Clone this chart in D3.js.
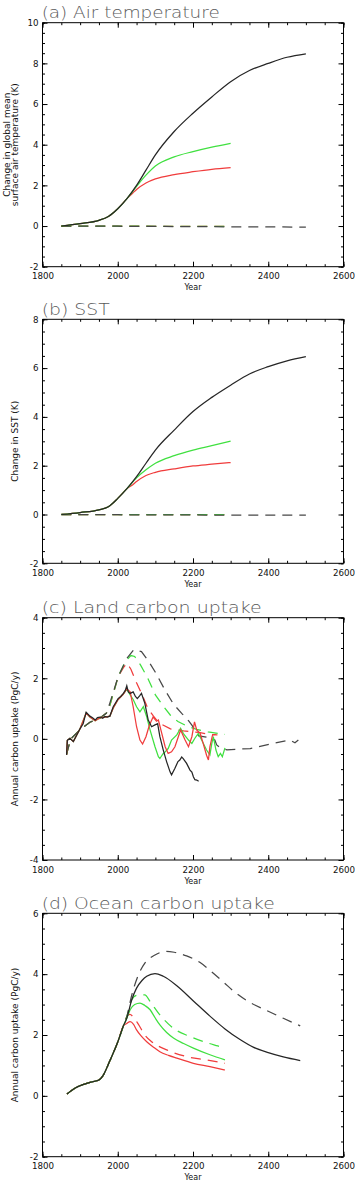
<!DOCTYPE html>
<html>
<head>
<meta charset="utf-8">
<script src="https://cdn.jsdelivr.net/npm/d3@7"></script>
<style>
  body { margin: 0; background: #fff; }
  text { font-family: "DejaVu Sans", sans-serif; }
</style>
</head>
<body>
<div id="chart"></div>
<script>
// ---- data: [year, value] ----
const yearTicks = [1800, 2000, 2200, 2400, 2600];

// (a) air temperature change (K)
const airBlack = [[1850, 0], [1900, 0.12], [1950, 0.28], [1975, 0.47], [2000, 0.85], [2025, 1.36], [2050, 2.0], [2075, 2.75], [2100, 3.5], [2150, 4.65], [2200, 5.55], [2250, 6.35], [2300, 7.1], [2350, 7.65], [2400, 8.0], [2450, 8.3], [2500, 8.47]];
const airGreen = [[1850, 0], [1900, 0.12], [1950, 0.28], [1975, 0.47], [2000, 0.85], [2025, 1.36], [2050, 1.95], [2075, 2.5], [2100, 2.95], [2150, 3.4], [2200, 3.66], [2250, 3.88], [2300, 4.07]];
const airRed = [[1850, 0], [1900, 0.12], [1950, 0.28], [1975, 0.47], [2000, 0.85], [2025, 1.36], [2040, 1.62], [2050, 1.8], [2075, 2.12], [2100, 2.32], [2150, 2.53], [2200, 2.67], [2250, 2.79], [2300, 2.87]];
const airBlackDash = [[1850, 0], [2000, -0.01], [2200, -0.03], [2500, -0.05]];
const airGreenDash = [[1850, 0], [2300, -0.02]];
const airRedDash = [[1850, 0], [2300, -0.02]];

// (b) SST change (K)
const sstBlack = [[1850, 0], [1900, 0.08], [1950, 0.19], [1975, 0.32], [2000, 0.66], [2025, 1.07], [2050, 1.55], [2075, 2.1], [2100, 2.64], [2150, 3.46], [2200, 4.22], [2250, 4.8], [2300, 5.3], [2350, 5.76], [2400, 6.06], [2450, 6.3], [2500, 6.47]];
const sstGreen = [[1850, 0], [1900, 0.08], [1950, 0.19], [1975, 0.32], [2000, 0.66], [2025, 1.07], [2050, 1.5], [2075, 1.83], [2100, 2.1], [2150, 2.41], [2200, 2.64], [2250, 2.82], [2300, 3.01]];
const sstRed = [[1850, 0], [1900, 0.08], [1950, 0.19], [1975, 0.32], [2000, 0.66], [2025, 1.07], [2040, 1.22], [2050, 1.35], [2075, 1.6], [2100, 1.73], [2150, 1.87], [2200, 1.99], [2250, 2.06], [2300, 2.13]];
const sstBlackDash = [[1850, 0], [2000, -0.01], [2200, -0.02], [2500, -0.03]];
const sstGreenDash = [[1850, 0], [2300, -0.01]];
const sstRedDash = [[1850, 0], [2300, -0.01]];

// (c) land carbon uptake (PgC/y)
const landBlack = [[1864, -0.53], [1866, -0.05], [1873, 0.02], [1882, -0.09], [1890, 0.1], [1900, 0.34], [1908, 0.5], [1916, 0.88], [1926, 0.75], [1933, 0.7], [1940, 0.62], [1946, 0.7], [1953, 0.72], [1960, 0.68], [1966, 0.74], [1972, 0.72], [1979, 0.75], [1988, 1.06], [2001, 1.33], [2008, 1.4], [2015, 1.5], [2020, 1.6], [2024, 1.75], [2028, 1.55], [2033, 1.5], [2041, 1.55], [2047, 1.4], [2052, 1.33], [2058, 1.42], [2063, 1.5], [2072, 1.17], [2081, 0.62], [2090, 0.4], [2099, 0.46], [2106, 0.5], [2112, 0.07], [2121, -0.37], [2130, -0.76], [2139, -1.09], [2143, -1.19], [2152, -0.97], [2160, -0.75], [2165, -0.7], [2170, -0.6], [2174, -0.65], [2183, -0.81], [2192, -1.03], [2197, -1.1], [2201, -1.25], [2205, -1.35], [2210, -1.36], [2215, -1.4]];
const landGreen = [[1864, -0.53], [1866, -0.05], [1873, 0.02], [1882, -0.09], [1900, 0.34], [1916, 0.85], [1926, 0.72], [1940, 0.6], [1953, 0.7], [1966, 0.72], [1979, 0.75], [1988, 1.02], [2001, 1.3], [2015, 1.48], [2024, 1.65], [2033, 1.45], [2041, 1.3], [2050, 1.06], [2059, 0.89], [2068, 1.06], [2077, 0.73], [2086, 0.29], [2099, -0.26], [2108, -0.59], [2112, -0.65], [2120, -0.5], [2126, -0.43], [2134, -0.32], [2143, -0.04], [2157, 0.13], [2167, 0.35], [2174, 0.18], [2188, -0.04], [2197, -0.15], [2205, 0.02], [2214, 0.18], [2223, -0.04], [2236, -0.37], [2245, -0.53], [2250, -0.15], [2254, 0.07], [2261, -0.37], [2267, -0.59], [2273, -0.48], [2278, -0.59], [2285, -0.3]];
const landRed = [[1864, -0.53], [1866, -0.05], [1873, 0.02], [1882, -0.09], [1900, 0.34], [1916, 0.85], [1926, 0.72], [1940, 0.6], [1953, 0.7], [1966, 0.72], [1979, 0.75], [1988, 1.02], [2001, 1.3], [2015, 1.48], [2024, 1.65], [2033, 1.55], [2041, 1.06], [2050, 0.4], [2059, -0.04], [2066, -0.17], [2075, 0.07], [2084, 0.45], [2094, 0.72], [2103, 0.58], [2108, 0.62], [2117, 0.18], [2126, -0.26], [2134, -0.48], [2143, -0.43], [2152, -0.26], [2161, 0.07], [2167, 0.29], [2179, -0.04], [2188, -0.26], [2197, 0.07], [2204, 0.56], [2210, 0.29], [2219, 0.18], [2227, -0.15], [2236, -0.54], [2241, -0.7], [2245, -0.26], [2252, 0.13], [2260, 0.15]];
const landBlackDash = [[1864, -0.5], [1875, 0.0], [1900, 0.3], [1926, 0.55], [1950, 0.66], [1970, 0.85], [1979, 1.18], [2001, 2.05], [2024, 2.65], [2043, 2.95], [2063, 2.88], [2081, 2.58], [2100, 2.2], [2126, 1.6], [2148, 1.15], [2170, 0.84], [2188, 0.6], [2197, 0.45], [2205, 0.3], [2215, 0.1], [2240, 0.05], [2258, -0.04], [2263, -0.2], [2272, -0.29], [2290, -0.36], [2352, -0.32], [2413, -0.15], [2458, -0.04], [2471, -0.13], [2480, -0.04]];
const landGreenDash = [[1864, -0.5], [1875, 0.0], [1900, 0.3], [1926, 0.55], [1950, 0.66], [1970, 0.85], [1979, 1.1], [2001, 2.05], [2020, 2.55], [2035, 2.75], [2045, 2.72], [2060, 2.45], [2080, 2.0], [2100, 1.45], [2120, 1.1], [2140, 0.78], [2160, 0.57], [2185, 0.42], [2210, 0.31], [2240, 0.23], [2285, 0.15]];
const landRedDash = [[1864, -0.5], [1875, 0.0], [1900, 0.3], [1926, 0.55], [1950, 0.66], [1970, 0.85], [1979, 1.1], [2001, 2.05], [2015, 2.35], [2024, 2.5], [2035, 2.3], [2050, 1.85], [2065, 1.45], [2080, 1.0], [2095, 0.75], [2110, 0.52], [2140, 0.33], [2175, 0.26], [2215, 0.21], [2250, 0.14], [2265, 0.13]];

// (d) ocean carbon uptake (PgC/y)
const oceanBlack = [[1865, 0.06], [1886, 0.25], [1910, 0.38], [1935, 0.47], [1950, 0.52], [1960, 0.65], [1979, 1.15], [2001, 1.8], [2015, 2.3], [2024, 2.55], [2037, 3.15], [2050, 3.54], [2065, 3.8], [2077, 3.93], [2099, 4.02], [2121, 3.93], [2157, 3.62], [2201, 3.12], [2245, 2.62], [2285, 2.2], [2325, 1.85], [2360, 1.6], [2400, 1.42], [2440, 1.28], [2485, 1.16]];
const oceanGreen = [[1865, 0.06], [1886, 0.25], [1910, 0.38], [1935, 0.47], [1950, 0.52], [1960, 0.65], [1979, 1.15], [2001, 1.8], [2015, 2.3], [2024, 2.55], [2033, 2.83], [2045, 3.0], [2059, 3.05], [2072, 2.97], [2086, 2.83], [2100, 2.55], [2112, 2.33], [2130, 2.08], [2148, 1.9], [2175, 1.72], [2201, 1.57], [2245, 1.35], [2285, 1.18]];
const oceanRed = [[1865, 0.06], [1886, 0.25], [1910, 0.38], [1935, 0.47], [1950, 0.52], [1960, 0.65], [1979, 1.15], [2001, 1.8], [2015, 2.3], [2024, 2.38], [2033, 2.44], [2042, 2.35], [2050, 2.17], [2062, 1.97], [2077, 1.78], [2095, 1.6], [2112, 1.45], [2135, 1.33], [2157, 1.24], [2201, 1.07], [2245, 0.96], [2285, 0.85]];
const oceanBlackDash = [[1865, 0.06], [1886, 0.25], [1910, 0.38], [1935, 0.47], [1950, 0.52], [1960, 0.65], [1979, 1.15], [2001, 1.8], [2015, 2.3], [2024, 2.6], [2037, 3.3], [2055, 3.98], [2072, 4.36], [2099, 4.63], [2128, 4.75], [2150, 4.72], [2183, 4.6], [2219, 4.38], [2250, 4.07], [2280, 3.75], [2310, 3.42], [2350, 3.08], [2400, 2.78], [2440, 2.55], [2485, 2.3]];
const oceanGreenDash = [[1865, 0.06], [1886, 0.25], [1910, 0.38], [1935, 0.47], [1950, 0.52], [1960, 0.65], [1979, 1.15], [2001, 1.8], [2015, 2.3], [2024, 2.6], [2037, 3.15], [2050, 3.3], [2072, 3.32], [2086, 3.1], [2112, 2.66], [2148, 2.22], [2192, 1.95], [2236, 1.75], [2266, 1.64], [2285, 1.57]];
const oceanRedDash = [[1865, 0.06], [1886, 0.25], [1910, 0.38], [1935, 0.47], [1950, 0.52], [1960, 0.65], [1979, 1.15], [2001, 1.8], [2015, 2.3], [2024, 2.6], [2032, 2.68], [2042, 2.58], [2055, 2.35], [2072, 2.0], [2090, 1.78], [2130, 1.51], [2183, 1.29], [2236, 1.18], [2285, 1.07]];

const colors = { black: '#262626', blackDash: '#474747', red: '#f03c3c', green: '#40e040' };

const width = 355, height = 1201;
const left = 42.5, right = 343.5;

const panels = [
  { title: '(a) Air temperature', titleLen: 178, top: 22.7, bottom: 266.7, yDomain: [-2, 10], yTicks: [-2, 0, 2, 4, 6, 8, 10],
    ylabel: ['Change in global mean', 'surface air temperature (K)'], curve: d3.curveMonotoneX,
    series: [[airRedDash, 'red', true], [airGreenDash, 'green', true], [airBlackDash, 'blackDash', true], [airRed, 'red'], [airGreen, 'green'], [airBlack, 'black']] },
  { title: '(b) SST', titleLen: 68, top: 319.3, bottom: 563.3, yDomain: [-2, 8], yTicks: [-2, 0, 2, 4, 6, 8],
    ylabel: ['Change in SST (K)'], curve: d3.curveMonotoneX,
    series: [[sstRedDash, 'red', true], [sstGreenDash, 'green', true], [sstBlackDash, 'blackDash', true], [sstRed, 'red'], [sstGreen, 'green'], [sstBlack, 'black']] },
  { title: '(c) Land carbon uptake', titleLen: 220, top: 617.7, bottom: 860, yDomain: [-4, 4], yTicks: [-4, -2, 0, 2, 4],
    ylabel: ['Annual carbon uptake (PgC/y)'], curve: d3.curveLinear,
    series: [[landRedDash, 'red', true], [landGreenDash, 'green', true], [landBlackDash, 'blackDash', true], [landGreen, 'green'], [landRed, 'red'], [landBlack, 'black']] },
  { title: '(d) Ocean carbon uptake', titleLen: 233, top: 913.3, bottom: 1156.7, yDomain: [-2, 6], yTicks: [-2, 0, 2, 4, 6],
    ylabel: ['Annual carbon uptake (PgC/y)'], curve: d3.curveMonotoneX,
    series: [[oceanRedDash, 'red', true], [oceanGreenDash, 'green', true], [oceanBlackDash, 'blackDash', true], [oceanRed, 'red'], [oceanGreen, 'green'], [oceanBlack, 'black']] }
];

const svg = d3.select('#chart').append('svg')
  .attr('width', width)
  .attr('height', height);

const x = d3.scaleLinear().domain([1800, 2600]).range([left, right]);
const xMinor = d3.range(1800, 2601, 50);

// ticks only (domain line removed), labels optional
const drawAxis = (sel, axis, showLabels) => {
  sel.call(axis);
  sel.select('.domain').remove();
  sel.selectAll('.tick line').attr('stroke', 'black').attr('stroke-width', 1);
  if (!showLabels) sel.selectAll('text').remove();
  else sel.selectAll('text').attr('fill', '#111').attr('font-size', 8.7).attr('font-family', 'DejaVu Sans, sans-serif');
};

panels.forEach(p => {
  const y = d3.scaleLinear().domain(p.yDomain).range([p.bottom, p.top]);
  const yMinor = d3.range(p.yDomain[0], p.yDomain[1] + 0.01, 0.5);
  const g = svg.append('g');

  // frame
  g.append('path')
    .attr('d', `M${left},${p.top}H${right}V${p.bottom}H${left}Z`)
    .attr('fill', 'none')
    .attr('stroke', 'black')
    .attr('stroke-width', 1);

  // ticks, inward on all four sides
  drawAxis(g.append('g').attr('transform', `translate(0,${p.bottom})`),
    d3.axisBottom(x).tickValues(yearTicks).tickSize(-5).tickPadding(6.5).tickFormat(d => String(d)), true);
  drawAxis(g.append('g').attr('transform', `translate(0,${p.bottom})`),
    d3.axisBottom(x).tickValues(xMinor).tickSize(-2.5), false);
  drawAxis(g.append('g').attr('transform', `translate(0,${p.top})`),
    d3.axisTop(x).tickValues(yearTicks).tickSize(-5), false);
  drawAxis(g.append('g').attr('transform', `translate(0,${p.top})`),
    d3.axisTop(x).tickValues(xMinor).tickSize(-2.5), false);
  drawAxis(g.append('g').attr('transform', `translate(${left},0)`),
    d3.axisLeft(y).tickValues(p.yTicks).tickSize(-5).tickPadding(4).tickFormat(d => String(d)), true);
  drawAxis(g.append('g').attr('transform', `translate(${left},0)`),
    d3.axisLeft(y).tickValues(yMinor).tickSize(-2.5), false);
  drawAxis(g.append('g').attr('transform', `translate(${right},0)`),
    d3.axisRight(y).tickValues(p.yTicks).tickSize(-5), false);
  drawAxis(g.append('g').attr('transform', `translate(${right},0)`),
    d3.axisRight(y).tickValues(yMinor).tickSize(-2.5), false);

  // series lines
  const line = d3.line()
    .x(d => x(d[0]))
    .y(d => y(d[1]))
    .curve(p.curve);

  p.series.forEach(s => {
    g.append('path')
      .attr('d', line(s[0]))
      .attr('fill', 'none')
      .attr('stroke', colors[s[1]])
      .attr('stroke-width', 1.25)
      .attr('stroke-dasharray', s[2] ? '10,7' : null);
  });

  // title
  g.append('text')
    .attr('x', 41.7)
    .attr('y', p.top - 4.5)
    .attr('textLength', p.titleLen)
    .attr('lengthAdjust', 'spacingAndGlyphs')
    .attr('fill', '#5a5a5a')
    .attr('font-size', 16)
    .attr('font-weight', 200)
    .text(p.title);

  // x label
  g.append('text')
    .attr('x', (left + right) / 2)
    .attr('y', p.bottom + 23.5)
    .attr('text-anchor', 'middle')
    .attr('fill', '#111')
    .attr('font-size', 8)
    .text('Year');

  // y label (one or two lines)
  const cy = (p.top + p.bottom) / 2;
  const n = p.ylabel.length;
  p.ylabel.forEach((t, i) => {
    const bx = 18.3 - (n - 1 - i) * 8.3;
    g.append('text')
      .attr('transform', `translate(${bx},${cy}) rotate(-90)`)
      .attr('text-anchor', 'middle')
      .attr('fill', '#111')
      .attr('font-size', 9)
      .text(t);
  });
});
</script>
</body>
</html>
